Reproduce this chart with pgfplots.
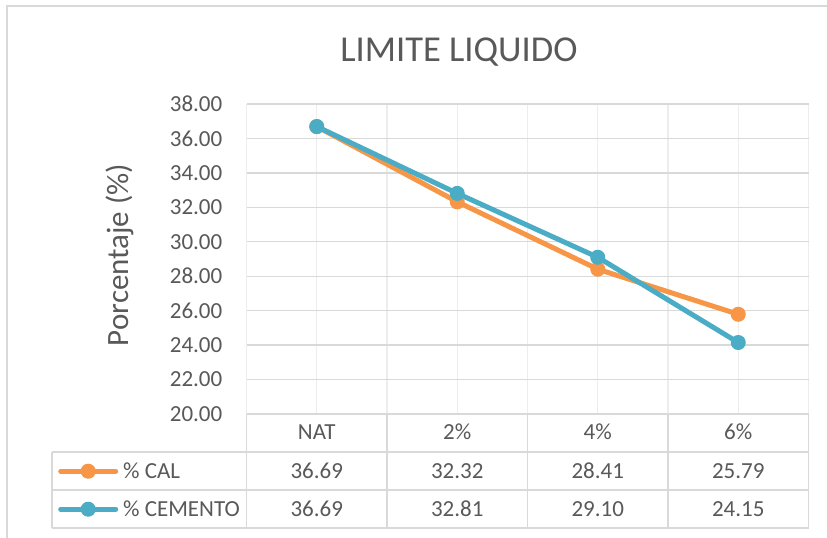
\documentclass[border=0pt]{standalone}
\usepackage{fontspec}
\setmainfont{Carlito}
\usepackage{pgfplots}
\pgfplotsset{compat=1.18}
\definecolor{txt}{HTML}{595959}
\definecolor{gridc}{HTML}{D9D9D9}
\definecolor{vgrid}{HTML}{EDEDED}
\definecolor{cal}{HTML}{F79646}
\definecolor{cem}{HTML}{4BACC6}
\newcommand{\tf}{\fontsize{23bp}{27bp}\selectfont}
\begin{document}
\begin{tikzpicture}
\useasboundingbox (0,0) rectangle (827bp,538bp);
\fill[white] (0,0) rectangle (827bp,538bp);
\draw[gridc, line width=1.3bp] (7bp,0) -- (7bp,532bp) -- (827bp,532bp);
% data table grid
\begin{scope}[gridc, line width=1.3bp]
\draw (246.5bp,124bp) -- (808.5bp,124bp);
\foreach \y in {86,48,10} \draw (52bp,\y bp) -- (808.5bp,\y bp);
\draw (52bp,86bp) -- (52bp,10bp);
\foreach \x in {246.5,387,527.5,668,808.5} \draw (\x bp,124bp) -- (\x bp,10bp);
\end{scope}
% data table text
\begin{scope}[every node/.style={text=txt, font=\tf, inner sep=0pt, anchor=center}]
\node at (316.75bp,106bp) {NAT};
\node at (457.25bp,106bp) {2\%};
\node at (597.75bp,106bp) {4\%};
\node at (738.25bp,106bp) {6\%};
\node at (316.75bp,67bp) {36.69};
\node at (457.25bp,67bp) {32.32};
\node at (597.75bp,67bp) {28.41};
\node at (738.25bp,67bp) {25.79};
\node at (316.75bp,29bp) {36.69};
\node at (457.25bp,29bp) {32.81};
\node at (597.75bp,29bp) {29.10};
\node at (738.25bp,29bp) {24.15};
\end{scope}
\begin{axis}[
  at={(246.5bp,124bp)}, anchor=south west,
  scale only axis, width=562bp, height=310bp,
  xmin=-0.5, xmax=3.5, ymin=20, ymax=38,
  xtick={-0.5,0.5,1.5,2.5,3.5}, xticklabels={},
  minor xtick={0,1,2,3},
  ytick={20,22,...,38},
  xmajorgrids, xminorgrids, ymajorgrids,
  major x grid style={vgrid, line width=1.3bp},
  minor x grid style={vgrid, line width=1.3bp},
  major y grid style={gridc, line width=1.3bp},
  axis line style={draw=none},
  major tick style={draw=none}, minor tick style={draw=none},
  /pgf/number format/assume math mode=true,
  yticklabel={\pgfmathprintnumber[fixed, fixed zerofill, precision=2]{\tick}},
  yticklabel style={text=txt, font=\tf, inner sep=0pt},
  yticklabel shift=24bp,
  title={LIMITE LIQUIDO},
  title style={at={(rel axis cs:0.378,1.119)}, anchor=base, yshift=0pt, inner sep=0pt,
    font=\fontsize{36.5bp}{40bp}\selectfont, text=txt},
  ylabel={Porcentaje (\%)},
  ylabel style={at={(rel axis cs:-0.2251,0.513)}, anchor=center, inner sep=0pt,
    font=\fontsize{31bp}{35bp}\selectfont, text=txt},
  legend style={draw=none, fill=none, at={(rel axis cs:-0.3354,-0.1226)},
    anchor=north west, inner sep=0pt, row sep=0pt, column sep=5bp,
    nodes={inner sep=0pt, minimum height=38bp, text=txt, font=\tf}},
  legend cell align=left,
  legend image code/.code={\draw[mark repeat=2,mark phase=2] plot coordinates {(0bp,0bp) (27.5bp,0bp) (55bp,0bp)};},
  every axis plot/.append style={line width=5bp, line cap=round, line join=round, mark=*, mark size=7bp},
]
\addplot[cal, mark options={fill=cal, line width=1bp}] coordinates {(0,36.69) (1,32.32) (2,28.41) (3,25.79)};
\addlegendentry{\% CAL}
\addplot[cem, mark options={fill=cem, line width=1bp}] coordinates {(0,36.69) (1,32.81) (2,29.10) (3,24.15)};
\addlegendentry{\% CEMENTO}
\end{axis}
\end{tikzpicture}
\end{document}
